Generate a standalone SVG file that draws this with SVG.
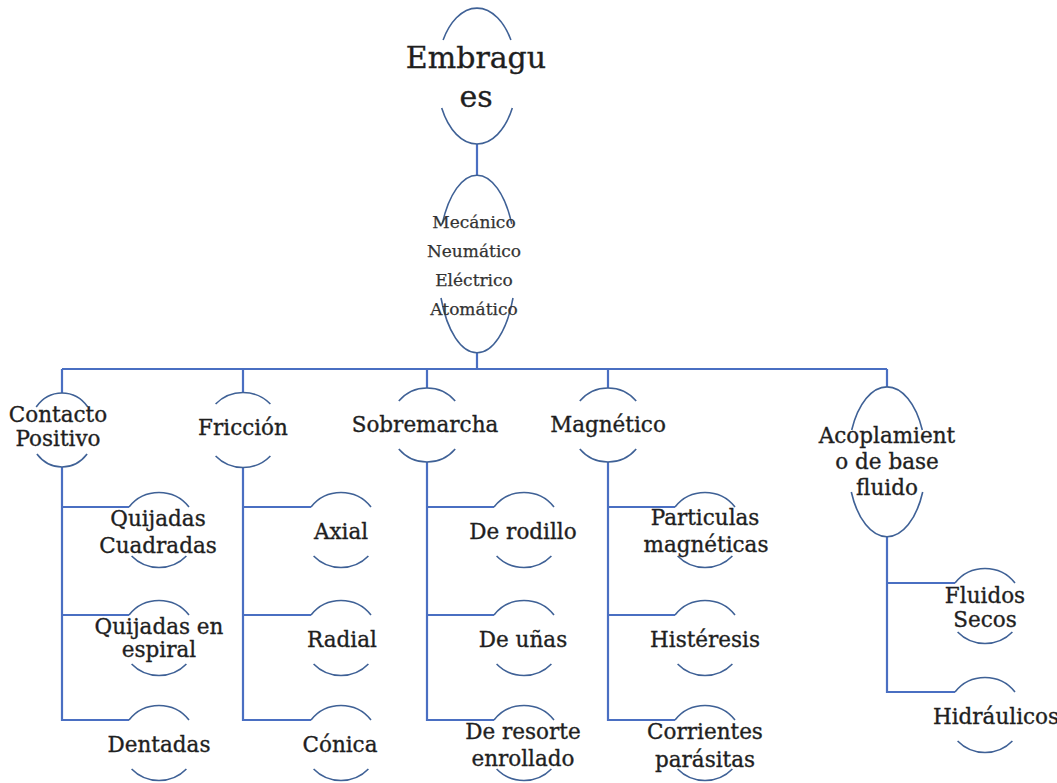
<svg xmlns="http://www.w3.org/2000/svg" xmlns:xlink="http://www.w3.org/1999/xlink" width="1057" height="783" viewBox="0 0 1057 783">
<style>
.arc{fill:none;stroke:#3f6196;stroke-width:1.6}
.con{fill:none;stroke:#4a6fc2;stroke-width:2.2}
.t{font-family:"DejaVu Serif","Liberation Serif",serif;fill:#1f1f1f;stroke:#1f1f1f;stroke-width:0.35;text-anchor:middle}
.big{font-size:30px}
.mid{font-size:21.5px}
.sm{font-size:17px;fill:#333;stroke:#333;stroke-width:0.25}
</style>
<defs>
<path id="carc" class="arc" d="M-30,-23 A38,37.5 0 0 1 30,-23 M-27.4,26 A38,37.5 0 0 0 27.4,26"/>
</defs>
<rect width="1057" height="783" fill="#ffffff"/>

<g id="connectors">
<path class="con" d="M477,144 V175 M477,353 V369 M62,369 H887 M62,369 V393 M243,369 V392 M427,369 V388 M608,369 V388 M887,369 V387"/>
<path class="con" d="M62,467 V720 H129 M62,507 H129 M62,615 H129"/>
<path class="con" d="M243,467 V720 H311 M243,507 H311 M243,615 H311"/>
<path class="con" d="M427,462 V720 H494 M427,507 H494 M427,615 H494"/>
<path class="con" d="M608,462 V720 H675 M608,507 H675 M608,615 H675"/>
<path class="con" d="M887,537 V692 H955 M887,583 H955"/>
</g>

<g id="embragues">
<path class="arc" d="M443.1,40 A40,68 0 0 1 510.9,40 M441.7,108 A40,68 0 0 0 512.3,108"/>
<text class="t big" x="476" y="68">Embragu</text>
<text class="t big" x="476" y="107">es</text>
</g>

<g id="tipos">
<path class="arc" d="M442.2,224 A39,89 0 0 1 511.8,224 M441,298 A39,89 0 0 0 513,298"/>
<text class="t sm" x="474" y="228">Mecánico</text>
<text class="t sm" x="474" y="257">Neumático</text>
<text class="t sm" x="474" y="286">Eléctrico</text>
<text class="t sm" x="474" y="315">Atomático</text>
</g>

<g id="contacto">
<path class="arc" d="M36.2,407 A33,37 0 0 1 87.8,407 M36.9,454 A33,37 0 0 0 87.1,454"/>
<text class="t mid" x="58" y="422">Contacto</text>
<text class="t mid" x="58" y="446">Positivo</text>
</g>
<g id="friccion">
<path class="arc" d="M215.6,404 A38,37.5 0 0 1 270.4,404 M215.6,456 A38,37.5 0 0 0 270.4,456"/>
<text class="t mid" x="243" y="435">Fricción</text>
</g>
<g id="sobremarcha">
<path class="arc" d="M398.8,401 A37,37 0 0 1 455.2,401 M398.8,449 A37,37 0 0 0 455.2,449"/>
<text class="t mid" x="425" y="432">Sobremarcha</text>
</g>
<g id="magnetico">
<path class="arc" d="M579.8,401 A37,37 0 0 1 636.2,401 M579.8,449 A37,37 0 0 0 636.2,449"/>
<text class="t mid" x="608" y="432">Magnético</text>
</g>
<g id="acoplamiento">
<path class="arc" d="M851.7,430 A39,75 0 0 1 922.3,430 M851.3,492 A39,75 0 0 0 922.7,492"/>
<text class="t mid" x="887" y="443">Acoplamient</text>
<text class="t mid" x="887" y="469">o de base</text>
<text class="t mid" x="887" y="495">fluido</text>
</g>

<g id="quijadas-cuadradas"><use xlink:href="#carc" x="159" y="530"/>
<text class="t mid" x="158" y="526">Quijadas</text><text class="t mid" x="158" y="553">Cuadradas</text></g>
<g id="quijadas-espiral"><use xlink:href="#carc" x="159" y="638"/>
<text class="t mid" x="159" y="634">Quijadas en</text><text class="t mid" x="159" y="657">espiral</text></g>
<g id="dentadas"><use xlink:href="#carc" x="159" y="743"/>
<text class="t mid" x="159" y="752">Dentadas</text></g>

<g id="axial"><use xlink:href="#carc" x="341" y="530"/>
<text class="t mid" x="341" y="539">Axial</text></g>
<g id="radial"><use xlink:href="#carc" x="341" y="638"/>
<text class="t mid" x="342" y="647">Radial</text></g>
<g id="conica"><use xlink:href="#carc" x="341" y="743"/>
<text class="t mid" x="340" y="752">Cónica</text></g>

<g id="rodillo"><use xlink:href="#carc" x="524" y="530"/>
<text class="t mid" x="523" y="539">De rodillo</text></g>
<g id="unas"><use xlink:href="#carc" x="524" y="638"/>
<text class="t mid" x="523" y="647">De uñas</text></g>
<g id="resorte"><use xlink:href="#carc" x="524" y="743"/>
<text class="t mid" x="523" y="739">De resorte</text><text class="t mid" x="523" y="766">enrollado</text></g>

<g id="particulas"><use xlink:href="#carc" x="705" y="530"/>
<text class="t mid" x="705" y="525">Particulas</text><text class="t mid" x="706" y="552">magnéticas</text></g>
<g id="histeresis"><use xlink:href="#carc" x="705" y="638"/>
<text class="t mid" x="705" y="647">Histéresis</text></g>
<g id="corrientes"><use xlink:href="#carc" x="705" y="743"/>
<text class="t mid" x="705" y="739">Corrientes</text><text class="t mid" x="705" y="767">parásitas</text></g>

<g id="fluidos-secos"><use xlink:href="#carc" x="985" y="606"/>
<text class="t mid" x="985" y="603">Fluidos</text><text class="t mid" x="985" y="627">Secos</text></g>
<g id="hidraulicos"><use xlink:href="#carc" x="985" y="715"/>
<text class="t mid" x="996" y="724">Hidráulicos</text></g>
</svg>
